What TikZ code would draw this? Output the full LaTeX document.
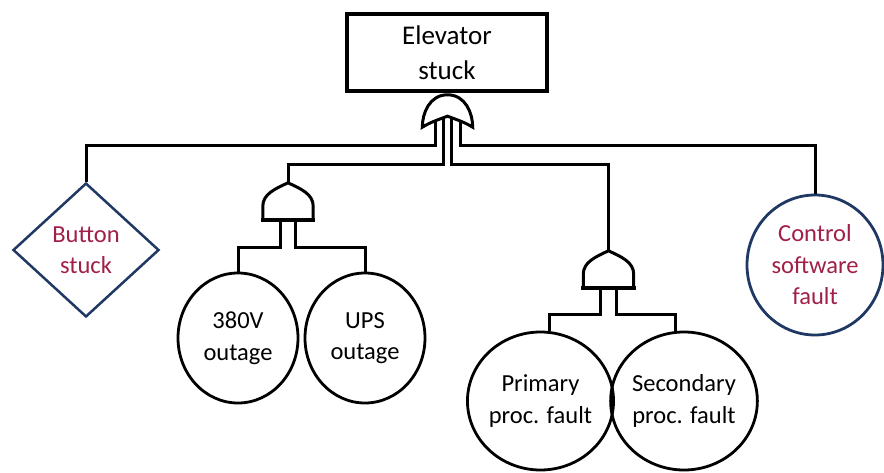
\documentclass[tikz,border=0pt]{standalone}
\usepackage{fontspec}
\setmainfont{Carlito}
\usetikzlibrary{shapes.geometric,calc}
\definecolor{navy}{RGB}{31,56,100}
\definecolor{faultred}{RGB}{160,32,72}
\tikzstyle{wire} = [draw, line width=3pt]
\tikzstyle{topevent} = [draw, rectangle, line width=4pt, minimum width=200pt, minimum height=77pt, align=center, font=\fontsize{27}{35}\selectfont]
\tikzstyle{event} = [draw, ellipse, line width=2.8pt, inner sep=0pt, align=center, font=\fontsize{24.5}{31.5}\selectfont]
\tikzstyle{undeveloped} = [draw=navy, diamond, line width=2.5pt, inner sep=0pt, minimum width=146pt, minimum height=134pt, align=center, text=faultred, font=\fontsize{24.5}{31.5}\selectfont]
\tikzstyle{gatebox} = [rectangle, minimum width=50pt, minimum height=37pt, inner sep=0pt]
\tikzstyle{gate} = [draw, line width=3pt, fill=white]

\begin{document}
\begin{tikzpicture}[x=1pt, y=-1pt]
    \useasboundingbox (0,0) rectangle (884,472);
    \node[topevent] (stuck) at (447,52.5) {Elevator\\stuck};
    \node[gatebox, minimum height=32pt] (orgate) at (447.5,111) {};
    \node[undeveloped] (btn) at (86,250) {Button\\stuck};
    \node[gatebox] (and1) at (288,201.5) {};
    \node[event, minimum width=120pt, minimum height=130pt] (v380) at (238,338) {380V\\outage};
    \node[event, minimum width=120pt, minimum height=130pt] (ups) at (365,338) {UPS\\outage};
    \node[gatebox] (and2) at (608.5,269.5) {};
    \node[event, minimum width=133pt, minimum height=138pt] (prim) at (540.5,401) {Primary\\proc. fault};
    \node[event, minimum width=132pt, minimum height=138pt] (sec) at (684,401) {Secondary\\proc. fault};
    \node[event, draw=navy, text=faultred, minimum width=136pt, minimum height=140pt] (ctrl) at (815,265) {Control\\software\\fault};
    % wires below the gates
    \path[wire] ([xshift=-12.5pt]orgate.center) -- ++(0,34) -| (btn.north);
    \path[wire] ([xshift=-4pt]orgate.center) -- ++(0,53) -| (and1.north);
    \path[wire] ([xshift=4pt]orgate.center) -- ++(0,53) -| (and2.north);
    \path[wire] ([xshift=12.5pt]orgate.center) -- ++(0,34) -| (ctrl.north);
    \path[wire] ([xshift=-7.5pt]and1.south) -- ++(0,27) -| (v380.north);
    \path[wire] ([xshift=7.5pt]and1.south) -- ++(0,27) -| (ups.north);
    \path[wire] ([xshift=-8pt]and2.south) -- ++(0,26) -| ([xshift=9pt]prim.north);
    \path[wire] ([xshift=8pt]and2.south) -- ++(0,26) -| ([xshift=-9pt]sec.north);
    % gate symbols
    \foreach \g in {and1, and2} {
        \draw[gate] (\g.south west) -- ++(0,-14) .. controls +(0,-12) and +(-13,6) .. (\g.north)
            .. controls +(13,6) and +(0,-12) .. ([yshift=14pt]\g.south east) -- (\g.south east);
        \draw[line width=4.5pt] ([xshift=-2pt]\g.south west) -- ([xshift=2pt]\g.south east);
    }
    \draw[gate] (orgate.south west) .. controls +(0,-14) and +(-18,0) .. (orgate.north)
        .. controls +(18,0) and +(0,-14) .. (orgate.south east)
        .. controls +(-8,-5) and +(8,3) .. ([yshift=11pt]orgate.south)
        .. controls +(-8,3) and +(8,-5) .. (orgate.south west) -- cycle;
\end{tikzpicture}
\end{document}
